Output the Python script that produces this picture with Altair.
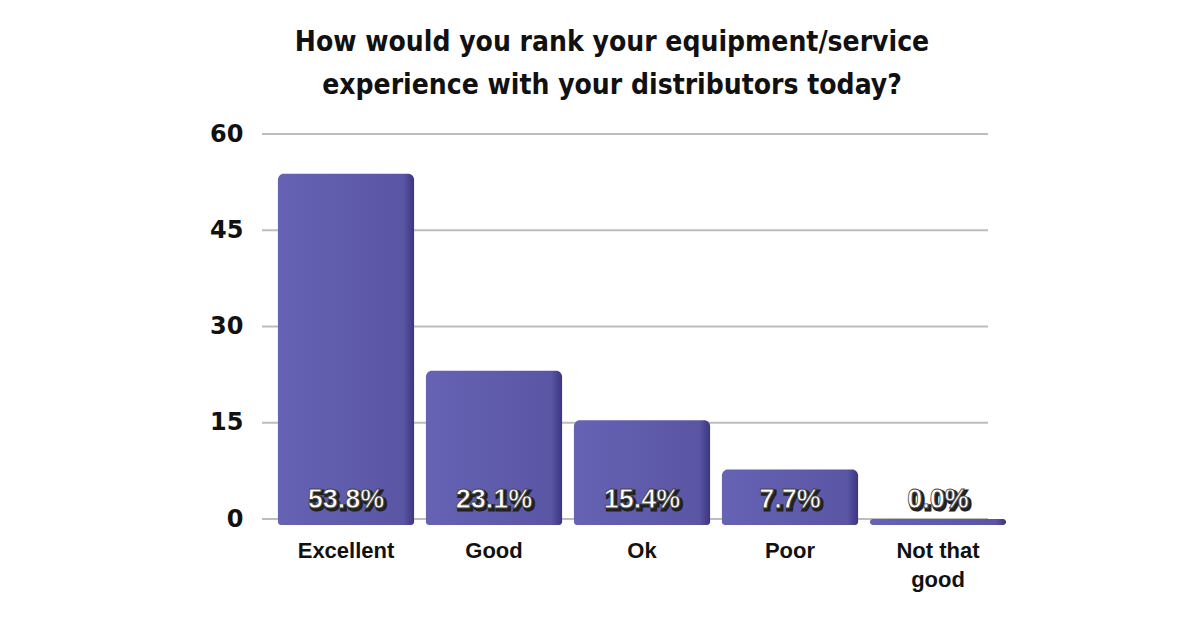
import altair as alt
import pandas as pd

# Survey responses (percent of respondents)
categories = ["Excellent", "Good", "Ok", "Poor", "Not that good"]
shares = [53.8, 23.1, 15.4, 7.7, 0.0]
y_ticks = [0, 15, 30, 45, 60]

df = pd.DataFrame({"rating": categories, "share": shares})
df["label"] = df["share"].map(lambda v: f"{v:.1f}%")
grid_df = pd.DataFrame({"tick": y_ticks})

narrow_font = "'DejaVu Sans Condensed', 'Liberation Sans Narrow', 'Arial Narrow', 'Liberation Sans', sans-serif"
label_font = "'Liberation Sans', Arial, sans-serif"

x_enc = alt.X(
    "rating:N",
    sort=categories,
    title=None,
    scale=alt.Scale(range=[10, 750], paddingInner=0.08, paddingOuter=0.04),
    axis=alt.Axis(
        labelFont=label_font,
        labelFontWeight="bold",
        labelFontSize=22,
        labelColor="#111111",
        labelAngle=0,
        labelPadding=21,
        labelLineHeight=29,
        labelExpr="datum.label == 'Not that good' ? ['Not that', 'good'] : datum.label",
        ticks=False,
        domain=False,
        grid=False,
    ),
)

y_scale = alt.Scale(domain=[0, 60], nice=False)
y_axis = alt.Axis(
    values=y_ticks,
    labelFont="DejaVu Sans",
    labelFontWeight="bold",
    labelFontSize=24,
    labelColor="#111111",
    labelPadding=19,
    ticks=False,
    domain=False,
    grid=False,
)

# Horizontal gridlines across the plot area
grid = alt.Chart(grid_df).mark_rule(color="#bdbdbd", strokeWidth=2).encode(
    y=alt.Y("tick:Q", scale=y_scale, axis=y_axis, title=None),
    x=alt.value(0),
    x2=alt.value(726),
)

bar_fill = alt.Gradient(
    gradient="linear",
    x1=0, y1=0, x2=1, y2=0,
    stops=[
        alt.GradientStop(offset=0, color="#6662b4"),
        alt.GradientStop(offset=0.5, color="#605cac"),
        alt.GradientStop(offset=0.92, color="#5a56a4"),
        alt.GradientStop(offset=1, color="#3a3680"),
    ],
)

# Bars sit slightly below the zero line, like a slab on the baseline
bars = alt.Chart(df).mark_bar(
    fill=bar_fill,
    cornerRadiusTopLeft=6,
    cornerRadiusTopRight=6,
    cornerRadiusBottomLeft=3,
    cornerRadiusBottomRight=3,
    y2Offset=6,
    clip=False,
).encode(
    x=x_enc,
    y=alt.Y("share:Q", scale=y_scale, axis=y_axis, title=None, stack=None),
    y2=alt.datum(0),
)

# Percentage labels at the foot of each bar: dark shadow under white text
shadow = alt.Chart(df).mark_text(
    font=label_font,
    fontWeight="bold",
    fontSize=27,
    color="#222222",
    stroke="#222222",
    strokeWidth=3,
    dx=2,
    dy=-17,
    baseline="middle",
).encode(x=alt.X("rating:N", sort=categories), y=alt.datum(0), text="label:N")

labels = alt.Chart(df).mark_text(
    font=label_font,
    fontWeight="bold",
    fontSize=27,
    color="#ffffff",
    stroke="#444444",
    strokeWidth=0.8,
    dy=-19,
    baseline="middle",
).encode(x=alt.X("rating:N", sort=categories), y=alt.datum(0), text="label:N")

chart = (
    alt.layer(grid, bars, shadow, labels)
    .properties(
        width=726,
        height=385,
        padding={"left": 262, "top": 134, "right": 212, "bottom": 109},
        autosize=alt.AutoSizeParams(type="none"),
        view=alt.ViewBackground(stroke="transparent", strokeWidth=0),
        title=alt.TitleParams(
            text=[
                "How would you rank your equipment/service",
                "experience with your distributors today?",
            ],
            font=narrow_font,
            fontWeight="bold",
            fontSize=28,
            lineHeight=43,
            color="#111111",
            anchor="middle",
            dx=-13,
            offset=22,
        ),
    )
    .configure_view(stroke="transparent", strokeWidth=0)
    .configure(
        background="#ffffff",
        style={"cell": {"stroke": "transparent", "strokeWidth": 0}},
    )
)

chart.save("out.html", embed_options={"renderer": "svg", "actions": False})
